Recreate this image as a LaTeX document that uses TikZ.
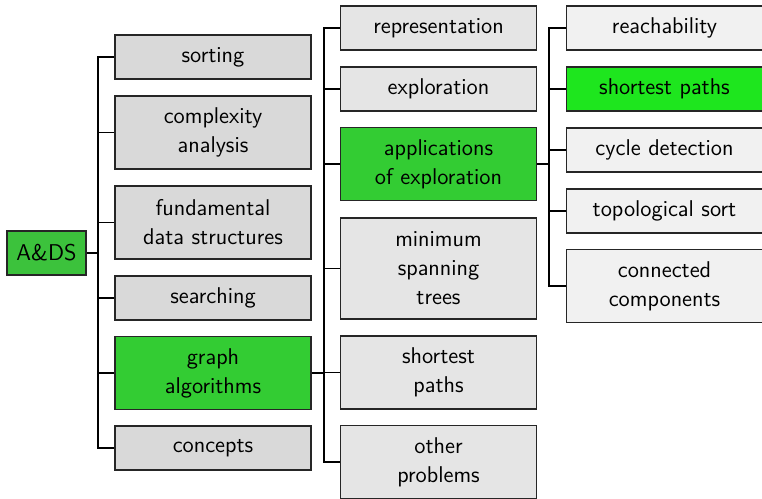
\documentclass[tikz,border=0pt]{standalone}
\usetikzlibrary{positioning}
\begin{document}
\begin{tikzpicture}[x=0.5pt,y=-0.5pt,
  every node/.style={font=\sffamily\fontsize{11.4}{14.5}\selectfont},
  box/.style={draw=black!85, line width=0.6pt, rectangle, align=center, minimum width=98pt, text width=92pt, inner sep=0pt},
  one/.style={minimum height=22pt},
  two/.style={minimum height=36.5pt},
  three/.style={minimum height=50.5pt},
  lone/.style={fill=gray!30},
  ltwo/.style={fill=gray!20},
  lthree/.style={fill=gray!11},
  conn/.style={draw=black, line width=0.6pt}
]
\useasboundingbox (0,0) rectangle (762,499);
\definecolor{rootgreen}{HTML}{3CC23C}
\definecolor{midgreen}{HTML}{33CC33}
\definecolor{brightgreen}{HTML}{1EE61E}
% root
\node[box, one, fill=rootgreen, minimum width=39.5pt, text width=36pt] (root) at (46.5,253) {A\&DS};
% level 1
\node[box, one, lone] (sort) at (213,57) {sorting};
\node[box, two, lone] (comp) at (213,132.5) {complexity\\analysis};
\node[box, two, lone] (fund) at (213,222.5) {fundamental\\data structures};
\node[box, one, lone] (search) at (213,298) {searching};
\node[box, two, fill=midgreen] (graph) at (213,373) {graph\\algorithms};
\node[box, one, lone] (conc) at (213,448) {concepts};
% level 2
\node[box, one, ltwo] (repr) at (438.5,28) {representation};
\node[box, one, ltwo] (expl) at (438.5,89) {exploration};
\node[box, two, fill=midgreen] (appl) at (438.5,164) {applications\\of exploration};
\node[box, three, ltwo] (mst) at (438.5,268.5) {minimum\\spanning\\trees};
\node[box, two, ltwo] (sp) at (438.5,372.5) {shortest\\paths};
\node[box, two, ltwo] (other) at (438.5,462) {other\\problems};
% level 3
\node[box, one, lthree] (reach) at (664.5,28) {reachability};
\node[box, one, fill=brightgreen] (sp3) at (664.5,89) {shortest paths};
\node[box, one, lthree] (cyc) at (664.5,150) {cycle detection};
\node[box, one, lthree] (topo) at (664.5,211) {topological sort};
\node[box, two, lthree] (cc) at (664.5,286) {connected\\components};
% trunk coordinates
\coordinate (t1) at (98,253);
\coordinate (t2) at (324,373);
\coordinate (t3) at (549,164);
\draw[conn] (root.east) -- (t1);
\foreach \n in {sort,comp,fund,search,graph,conc} \draw[conn] (t1) |- (\n.west);
\draw[conn] (graph.east) -- (t2);
\foreach \n in {repr,expl,appl,mst,sp,other} \draw[conn] (t2) |- (\n.west);
\draw[conn] (appl.east) -- (t3);
\foreach \n in {reach,sp3,cyc,topo,cc} \draw[conn] (t3) |- (\n.west);
\end{tikzpicture}
\end{document}
